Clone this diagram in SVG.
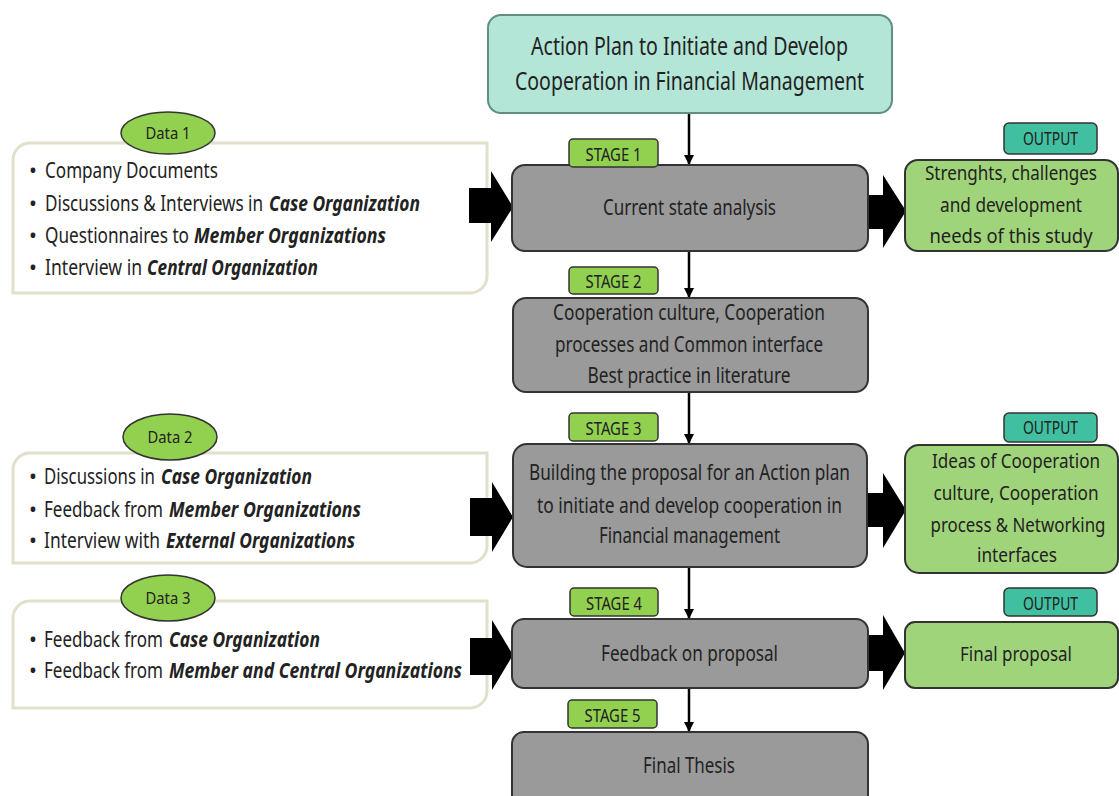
<svg xmlns="http://www.w3.org/2000/svg" width="1119" height="796" viewBox="0 0 1119 796">
  <defs>
    <style>
      text { font-family: "Noto Sans", "Open Sans", "Liberation Sans", sans-serif; fill: #222; }
      .title { font-size: 25px; text-anchor: middle; }
      .body { font-size: 21px; text-anchor: middle; }
      .out { font-size: 20px; text-anchor: middle; }
      .list { font-size: 21px; }
      .em { font-weight: bold; font-style: italic; }
      .tag { font-size: 18px; text-anchor: middle; }
      .dlabel { font-size: 16px; text-anchor: middle; }
      .titlebox { fill: #b4e6d8; stroke: #5f8f84; stroke-width: 2; }
      .stage { fill: #9a9a9a; stroke: #333; stroke-width: 2; }
      .stagetag { fill: #92d050; stroke: #333; stroke-width: 1.5; }
      .outtag { fill: #40c0a0; stroke: #333; stroke-width: 1.5; }
      .outbox { fill: #a0d47a; stroke: #333; stroke-width: 2; }
      .databox { fill: #fff; stroke: #e2dfcb; stroke-width: 3; }
      .oval { fill: #92d050; stroke: #333; stroke-width: 1.5; }
      .flow { stroke: #000; stroke-width: 2.5; fill: none; }
      .fat { fill: #000; }
    </style>
    <marker id="head" viewBox="0 0 10 10" refX="10" refY="5" markerWidth="4" markerHeight="4.5" orient="auto" markerUnits="strokeWidth">
      <path d="M0,0 L10,5 L0,10 Z" fill="#000"/>
    </marker>
  </defs>

  <rect width="1119" height="796" fill="#fff"/>

  <!-- data sources (text is set condensed with a horizontal scale) -->
  <g id="data1">
    <path class="databox" d="M13,293 L13,160 A17,17 0 0 1 30,143 L487,143 L487,276 A17,17 0 0 1 470,293 Z"/>
    <ellipse class="oval" cx="168" cy="133" rx="47" ry="21"/>
    <text class="dlabel" transform="translate(168,139) scale(0.83,1)" textLength="54.2" lengthAdjust="spacingAndGlyphs">Data 1</text>
    <text class="list" x="29" y="178">•</text>
    <text class="list" transform="translate(45,178) scale(0.83,1)" textLength="208.4" lengthAdjust="spacingAndGlyphs">Company Documents</text>
    <text class="list" x="29" y="211">•</text>
    <text class="list" transform="translate(45,211) scale(0.83,1)" textLength="262.7" lengthAdjust="spacingAndGlyphs">Discussions &amp; Interviews in</text>
    <text class="list em" transform="translate(269,211) scale(0.83,1)" textLength="181.9" lengthAdjust="spacingAndGlyphs">Case Organization</text>
    <text class="list" x="29" y="243">•</text>
    <text class="list" transform="translate(45,243) scale(0.83,1)" textLength="173.5" lengthAdjust="spacingAndGlyphs">Questionnaires to</text>
    <text class="list em" transform="translate(194,243) scale(0.83,1)" textLength="231.3" lengthAdjust="spacingAndGlyphs">Member Organizations</text>
    <text class="list" x="29" y="275">•</text>
    <text class="list" transform="translate(45,275) scale(0.83,1)" textLength="116.9" lengthAdjust="spacingAndGlyphs">Interview in</text>
    <text class="list em" transform="translate(147,275) scale(0.83,1)" textLength="206" lengthAdjust="spacingAndGlyphs">Central Organization</text>
  </g>

  <g id="data2">
    <path class="databox" d="M13,563 L13,470 A17,17 0 0 1 30,453 L487,453 L487,546 A17,17 0 0 1 470,563 Z"/>
    <ellipse class="oval" cx="170" cy="437" rx="47" ry="23"/>
    <text class="dlabel" transform="translate(170,443) scale(0.83,1)" textLength="54.2" lengthAdjust="spacingAndGlyphs">Data 2</text>
    <text class="list" x="29" y="484">•</text>
    <text class="list" transform="translate(44,484) scale(0.83,1)" textLength="133.7" lengthAdjust="spacingAndGlyphs">Discussions in</text>
    <text class="list em" transform="translate(161,484) scale(0.83,1)" textLength="181.9" lengthAdjust="spacingAndGlyphs">Case Organization</text>
    <text class="list" x="29" y="517">•</text>
    <text class="list" transform="translate(44,517) scale(0.83,1)" textLength="143.4" lengthAdjust="spacingAndGlyphs">Feedback from</text>
    <text class="list em" transform="translate(169,517) scale(0.83,1)" textLength="231.3" lengthAdjust="spacingAndGlyphs">Member Organizations</text>
    <text class="list" x="29" y="548">•</text>
    <text class="list" transform="translate(44,548) scale(0.83,1)" textLength="139.8" lengthAdjust="spacingAndGlyphs">Interview with</text>
    <text class="list em" transform="translate(166,548) scale(0.83,1)" textLength="227.7" lengthAdjust="spacingAndGlyphs">External Organizations</text>
  </g>

  <g id="data3">
    <path class="databox" d="M13,708 L13,618 A17,17 0 0 1 30,601 L487,601 L487,691 A17,17 0 0 1 470,708 Z"/>
    <ellipse class="oval" cx="168" cy="598" rx="47" ry="23"/>
    <text class="dlabel" transform="translate(168,604) scale(0.83,1)" textLength="54.2" lengthAdjust="spacingAndGlyphs">Data 3</text>
    <text class="list" x="29" y="647">•</text>
    <text class="list" transform="translate(44,647) scale(0.83,1)" textLength="143.4" lengthAdjust="spacingAndGlyphs">Feedback from</text>
    <text class="list em" transform="translate(169,647) scale(0.83,1)" textLength="181.9" lengthAdjust="spacingAndGlyphs">Case Organization</text>
    <text class="list" x="29" y="678">•</text>
    <text class="list" transform="translate(44,678) scale(0.83,1)" textLength="143.4" lengthAdjust="spacingAndGlyphs">Feedback from</text>
    <text class="list em" transform="translate(169,678) scale(0.83,1)" textLength="353" lengthAdjust="spacingAndGlyphs">Member and Central Organizations</text>
  </g>

  <!-- connectors: flow lines and block arrows -->
  <g id="connectors">
    <line class="flow" x1="689" y1="113" x2="689" y2="165" marker-end="url(#head)"/>
    <line class="flow" x1="689" y1="251" x2="689" y2="298" marker-end="url(#head)"/>
    <line class="flow" x1="689" y1="392" x2="689" y2="444" marker-end="url(#head)"/>
    <line class="flow" x1="689" y1="567" x2="689" y2="619" marker-end="url(#head)"/>
    <line class="flow" x1="689" y1="688" x2="689" y2="732" marker-end="url(#head)"/>
    <path class="fat" d="M469,188 L491,188 L491,171 L513,207 L491,242 L491,223 L469,223 Z"/>
    <path class="fat" d="M470,498 L492,498 L492,482 L513,517 L492,552 L492,536 L470,536 Z"/>
    <path class="fat" d="M470,638 L492,638 L492,620 L513,655 L492,690 L492,675 L470,675 Z"/>
    <path class="fat" d="M862,195 L883,195 L883,175 L906,211 L883,248 L883,229 L862,229 Z"/>
    <path class="fat" d="M862,493 L883,493 L883,473 L906,510 L883,548 L883,527 L862,527 Z"/>
    <path class="fat" d="M862,635 L883,635 L883,615 L905,653 L883,690 L883,671 L862,671 Z"/>
  </g>

  <!-- title -->
  <g id="title">
    <rect class="titlebox" x="488" y="15" width="404" height="98" rx="13"/>
    <text class="title" transform="translate(689.5,55) scale(0.83,1)" textLength="381.9" lengthAdjust="spacingAndGlyphs">Action Plan to Initiate and Develop</text>
    <text class="title" transform="translate(689.5,90) scale(0.83,1)" textLength="420.5" lengthAdjust="spacingAndGlyphs">Cooperation in Financial Management</text>
  </g>

  <!-- stages -->
  <g id="stage1">
    <rect class="stage" x="512" y="165" width="356" height="86" rx="13"/>
    <text class="body" transform="translate(689.5,215) scale(0.83,1)" textLength="208.4" lengthAdjust="spacingAndGlyphs">Current state analysis</text>
    <rect class="stagetag" x="569" y="139" width="89" height="28" rx="4"/>
    <text class="tag" transform="translate(613.5,161) scale(0.83,1)" textLength="67.5" lengthAdjust="spacingAndGlyphs">STAGE 1</text>
  </g>

  <g id="stage2">
    <rect class="stage" x="513" y="298" width="355" height="94" rx="13"/>
    <text class="body" transform="translate(689,320) scale(0.83,1)" textLength="327.7" lengthAdjust="spacingAndGlyphs">Cooperation culture, Cooperation</text>
    <text class="body" transform="translate(689,352) scale(0.83,1)" textLength="322.9" lengthAdjust="spacingAndGlyphs">processes and Common interface</text>
    <text class="body" transform="translate(689,383) scale(0.83,1)" textLength="244.6" lengthAdjust="spacingAndGlyphs">Best practice in literature</text>
    <rect class="stagetag" x="569" y="267" width="89" height="27" rx="4"/>
    <text class="tag" transform="translate(613.5,288) scale(0.83,1)" textLength="67.5" lengthAdjust="spacingAndGlyphs">STAGE 2</text>
  </g>

  <g id="stage3">
    <rect class="stage" x="513" y="444" width="354" height="123" rx="14"/>
    <text class="body" transform="translate(689.5,480) scale(0.83,1)" textLength="386.7" lengthAdjust="spacingAndGlyphs">Building the proposal for an Action plan</text>
    <text class="body" transform="translate(689.5,513) scale(0.83,1)" textLength="367.5" lengthAdjust="spacingAndGlyphs">to initiate and develop cooperation in</text>
    <text class="body" transform="translate(689.5,543) scale(0.83,1)" textLength="218.1" lengthAdjust="spacingAndGlyphs">Financial management</text>
    <rect class="stagetag" x="569" y="413" width="89" height="28" rx="4"/>
    <text class="tag" transform="translate(613.5,435) scale(0.83,1)" textLength="67.5" lengthAdjust="spacingAndGlyphs">STAGE 3</text>
  </g>

  <g id="stage4">
    <rect class="stage" x="512" y="619" width="356" height="69" rx="12"/>
    <text class="body" transform="translate(689.5,661) scale(0.83,1)" textLength="213.3" lengthAdjust="spacingAndGlyphs">Feedback on proposal</text>
    <rect class="stagetag" x="570" y="588" width="88" height="28" rx="4"/>
    <text class="tag" transform="translate(614,610) scale(0.83,1)" textLength="67.5" lengthAdjust="spacingAndGlyphs">STAGE 4</text>
  </g>

  <g id="stage5">
    <rect class="stage" x="512" y="732" width="356" height="80" rx="12"/>
    <text class="body" transform="translate(689,773) scale(0.83,1)" textLength="110.8" lengthAdjust="spacingAndGlyphs">Final Thesis</text>
    <rect class="stagetag" x="568" y="700" width="89" height="28" rx="4"/>
    <text class="tag" transform="translate(612.5,722) scale(0.83,1)" textLength="67.5" lengthAdjust="spacingAndGlyphs">STAGE 5</text>
  </g>

  <!-- outputs -->
  <g id="output1">
    <rect class="outbox" x="905" y="160" width="213" height="91" rx="13"/>
    <text class="out" transform="translate(1011,180) scale(0.83,1)" textLength="207.2" lengthAdjust="spacingAndGlyphs">Strenghts, challenges</text>
    <text class="out" transform="translate(1011,212) scale(0.83,1)" textLength="171.1" lengthAdjust="spacingAndGlyphs">and development</text>
    <text class="out" transform="translate(1011,243) scale(0.83,1)" textLength="196.4" lengthAdjust="spacingAndGlyphs">needs of this study</text>
    <rect class="outtag" x="1004" y="123" width="93" height="31" rx="5"/>
    <text class="tag" transform="translate(1050.5,145) scale(0.83,1)" textLength="66.3" lengthAdjust="spacingAndGlyphs">OUTPUT</text>
  </g>

  <g id="output2">
    <rect class="outbox" x="905" y="445" width="213" height="128" rx="14"/>
    <text class="out" transform="translate(1016,468) scale(0.83,1)" textLength="202.4" lengthAdjust="spacingAndGlyphs">Ideas of Cooperation</text>
    <text class="out" transform="translate(1016,500) scale(0.83,1)" textLength="198.8" lengthAdjust="spacingAndGlyphs">culture, Cooperation</text>
    <text class="out" transform="translate(1018,532) scale(0.83,1)" textLength="210.8" lengthAdjust="spacingAndGlyphs">process &amp; Networking</text>
    <text class="out" transform="translate(1017,562) scale(0.83,1)" textLength="96.4" lengthAdjust="spacingAndGlyphs">interfaces</text>
    <rect class="outtag" x="1004" y="413" width="93" height="29" rx="5"/>
    <text class="tag" transform="translate(1050.5,434) scale(0.83,1)" textLength="66.3" lengthAdjust="spacingAndGlyphs">OUTPUT</text>
  </g>

  <g id="output3">
    <rect class="outbox" x="905" y="622" width="213" height="66" rx="10"/>
    <text class="out" transform="translate(1016,661) scale(0.83,1)" textLength="134.9" lengthAdjust="spacingAndGlyphs">Final proposal</text>
    <rect class="outtag" x="1004" y="588" width="93" height="28" rx="5"/>
    <text class="tag" transform="translate(1050.5,610) scale(0.83,1)" textLength="66.3" lengthAdjust="spacingAndGlyphs">OUTPUT</text>
  </g>
</svg>
